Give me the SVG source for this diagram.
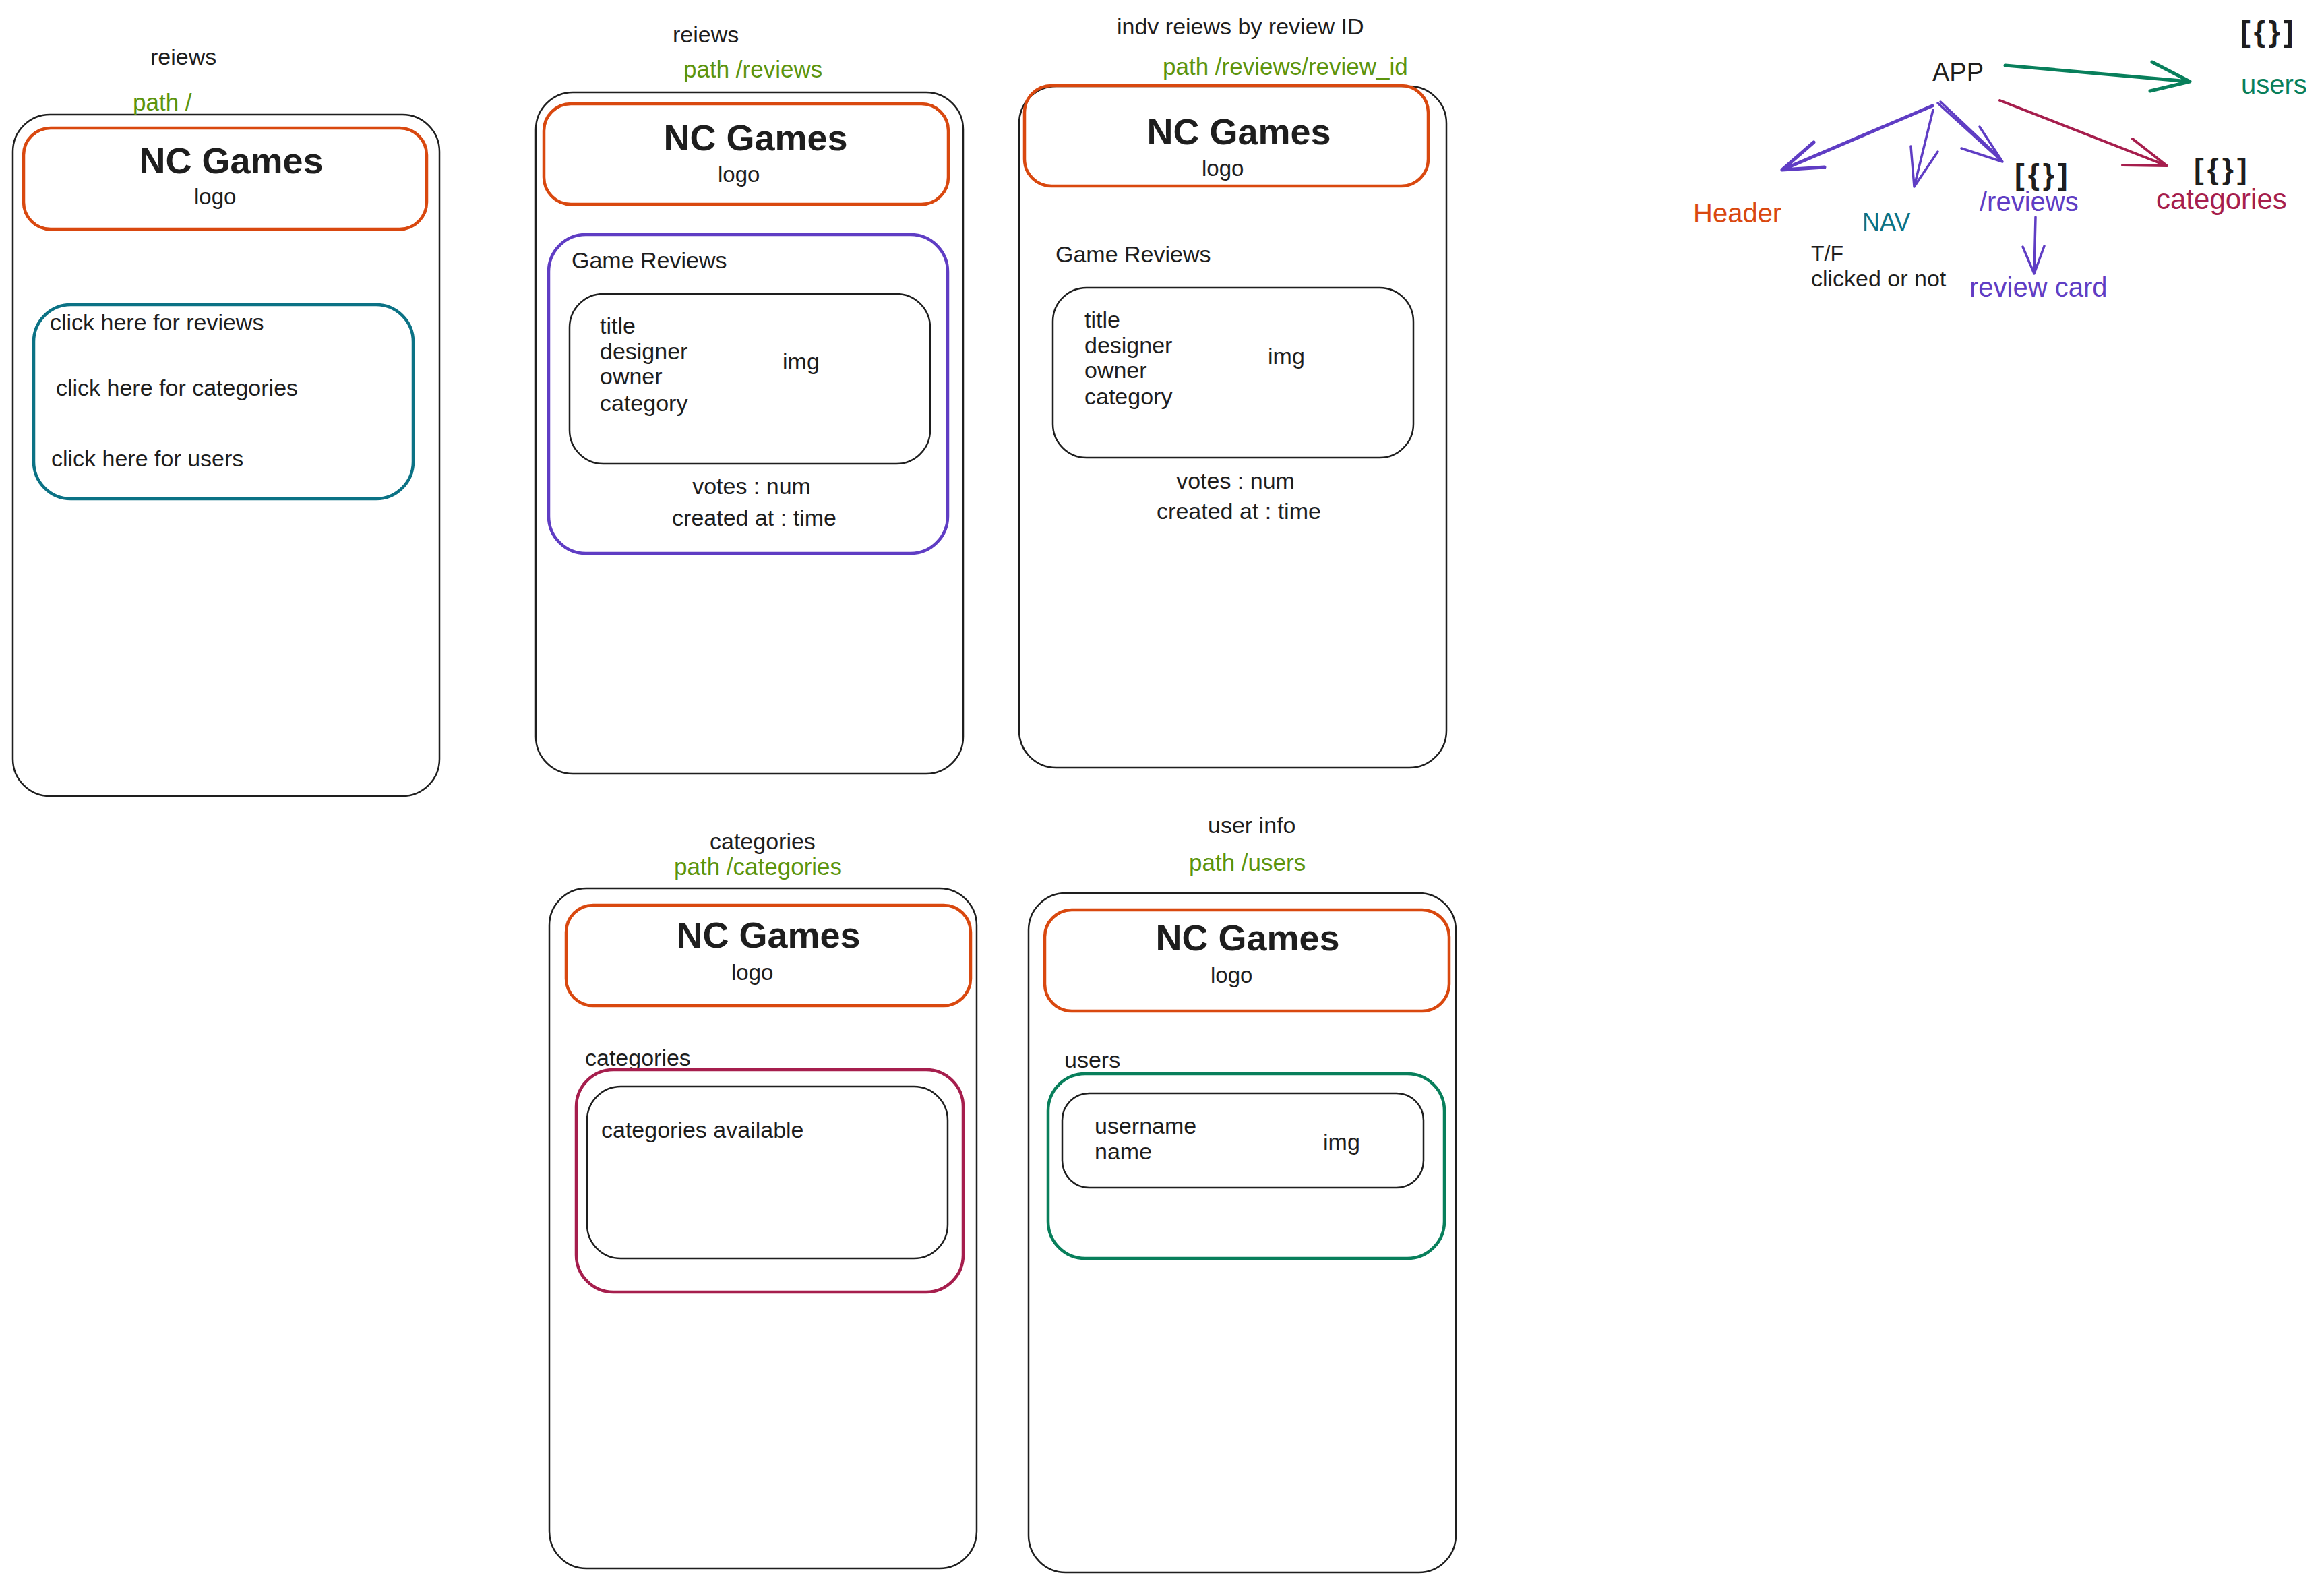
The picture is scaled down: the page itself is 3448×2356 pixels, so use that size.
<svg xmlns="http://www.w3.org/2000/svg" width="3448" height="2356" viewBox="0 0 3448 2356">
<style>
text{font-family:"Liberation Sans",Arial,sans-serif;fill:#1e1e1e}
.t{font-size:34px}
.big{font-size:54px;font-weight:bold;text-anchor:middle}
.logo{font-size:33px}
.path{font-size:35px;fill:#5c940d}
.frame{fill:none;stroke:#1e1e1e;stroke-width:2.5}
.hdr{fill:none;stroke:#d9480f;stroke-width:4.5}
.inner{fill:none;stroke:#1e1e1e;stroke-width:2.5}
.nav{fill:none;stroke:#0b7285;stroke-width:4.5}
.vio{fill:none;stroke:#5f3dc4;stroke-width:4.5}
.pink{fill:none;stroke:#a61e4d;stroke-width:4.5}
.teal{fill:none;stroke:#087f5b;stroke-width:4.5}
.mid{text-anchor:middle}
.br{font-weight:bold;font-size:44px;letter-spacing:5px}
.tree{font-size:40px}
.arr{fill:none;stroke-linecap:round;stroke-linejoin:round}
</style>
<rect width="3448" height="2356" fill="#ffffff"/>

<g id="frame-home">
<rect class="frame" x="19" y="170" width="633" height="1011" rx="55"/>
<text class="t" x="223" y="96">reiews</text>
<text class="path" x="197" y="164">path /</text>
<rect class="hdr" x="35" y="190" width="598" height="150" rx="40"/>
<text class="big" x="343" y="257">NC Games</text>
<text class="logo" x="288" y="303">logo</text>
<rect class="nav" x="50" y="452" width="563" height="288" rx="55"/>
<text class="t" x="74" y="490">click here for reviews</text>
<text class="t" x="83" y="587">click here for categories</text>
<text class="t" x="76" y="692">click here for users</text>
</g>

<g id="frame-reviews">
<rect class="frame" x="795" y="137" width="634" height="1011" rx="55"/>
<text class="t" x="998" y="63">reiews</text>
<text class="path" x="1014" y="115">path /reviews</text>
<rect class="hdr" x="807" y="154" width="600" height="149" rx="40"/>
<text class="big" x="1121" y="223">NC Games</text>
<text class="logo" x="1065" y="270">logo</text>
<rect class="vio" x="814" y="348" width="592" height="473" rx="55"/>
<text class="t" x="848" y="398">Game Reviews</text>
<rect class="inner" x="845" y="436" width="535" height="252" rx="50"/>
<text class="t" x="890" y="495">title</text>
<text class="t" x="890" y="533">designer</text>
<text class="t" x="890" y="570">owner</text>
<text class="t" x="890" y="610">category</text>
<text class="t" x="1161" y="548">img</text>
<text class="t mid" x="1115" y="733">votes : num</text>
<text class="t mid" x="1119" y="780">created at : time</text>
</g>

<g id="frame-review-id">
<rect class="frame" x="1512" y="128" width="634" height="1011" rx="55"/>
<text class="t" x="1657" y="51">indv reiews by review ID</text>
<text class="path" x="1725" y="111">path /reviews/review_id</text>
<rect class="hdr" x="1520" y="127" width="599" height="149" rx="40"/>
<text class="big" x="1838" y="214">NC Games</text>
<text class="logo" x="1783" y="261">logo</text>
<text class="t" x="1566" y="389">Game Reviews</text>
<rect class="inner" x="1562" y="427" width="535" height="252" rx="50"/>
<text class="t" x="1609" y="486">title</text>
<text class="t" x="1609" y="524">designer</text>
<text class="t" x="1609" y="561">owner</text>
<text class="t" x="1609" y="600">category</text>
<text class="t" x="1881" y="540">img</text>
<text class="t mid" x="1833" y="725">votes : num</text>
<text class="t mid" x="1838" y="770">created at : time</text>
</g>

<g id="frame-categories">
<rect class="frame" x="815" y="1318" width="634" height="1009" rx="55"/>
<text class="t" x="1053" y="1260">categories</text>
<text class="path" x="1000" y="1298">path /categories</text>
<rect class="hdr" x="840" y="1343" width="600" height="149" rx="40"/>
<text class="big" x="1140" y="1406">NC Games</text>
<text class="logo" x="1085" y="1454">logo</text>
<text class="t" x="868" y="1581">categories</text>
<rect class="pink" x="855" y="1587" width="574" height="330" rx="55"/>
<rect class="inner" x="871" y="1612" width="535" height="255" rx="50"/>
<text class="t" x="892" y="1688">categories available</text>
</g>

<g id="frame-users">
<rect class="frame" x="1526" y="1325" width="634" height="1008" rx="55"/>
<text class="t" x="1792" y="1236">user info</text>
<text class="path" x="1764" y="1292">path /users</text>
<rect class="hdr" x="1550" y="1350" width="600" height="150" rx="40"/>
<text class="big" x="1851" y="1410">NC Games</text>
<text class="logo" x="1796" y="1458">logo</text>
<text class="t" x="1579" y="1584">users</text>
<rect class="teal" x="1555" y="1593" width="588" height="274" rx="55"/>
<rect class="inner" x="1576" y="1622" width="536" height="140" rx="40"/>
<text class="t" x="1624" y="1682">username</text>
<text class="t" x="1624" y="1720">name</text>
<text class="t" x="1963" y="1706">img</text>
</g>

<g id="node-app"><text x="2867" y="120" style="font-size:38px">APP</text></g>
<g id="node-users">
<text class="br" x="3324" y="62">[{}]</text>
<text class="tree" x="3325" y="139" style="fill:#087f5b">users</text>
</g>
<g id="node-header"><text class="tree" x="2512" y="330" style="fill:#d9480f">Header</text></g>
<g id="node-nav">
<text x="2763" y="342" style="font-size:36px;fill:#0b7285">NAV</text>
<text x="2687" y="387" style="font-size:32px">T/F</text>
<text x="2687" y="425" style="font-size:34px">clicked or not</text>
</g>
<g id="node-reviews">
<text class="br" x="2989" y="274">[{}]</text>
<text class="tree" x="2937" y="313" style="fill:#5f3dc4">/reviews</text>
</g>
<g id="node-review-card"><text class="tree" x="2922" y="440" style="fill:#5f3dc4">review card</text></g>
<g id="node-categories">
<text class="br" x="3255" y="266">[{}]</text>
<text x="3199" y="310" style="font-size:42px;fill:#a61e4d">categories</text>
</g>

<g id="connectors" class="arr">
<path d="M2975 97 L3249 121 M3193 92 L3249 121 L3190 135" stroke="#087f5b" stroke-width="5"/>
<path d="M2867 157 L2644 252 M2691 211 L2644 252 L2707 248" stroke="#5f3dc4" stroke-width="5"/>
<path d="M2868 163 L2840 277 M2835 217 L2840 277 L2875 225" stroke="#5f3dc4" stroke-width="3.5"/>
<path d="M2875 153 L2971 240 M2879 151 L2969 236 M2937 188 L2971 240 L2910 220" stroke="#5f3dc4" stroke-width="3.5"/>
<path d="M2967 149 L3215 246 M3164 206 L3215 246 L3149 245" stroke="#a61e4d" stroke-width="4"/>
<path d="M3020 322 L3018 406 M3001 366 L3018 406 L3033 365" stroke="#5f3dc4" stroke-width="3.5"/>
</g>
</svg>
